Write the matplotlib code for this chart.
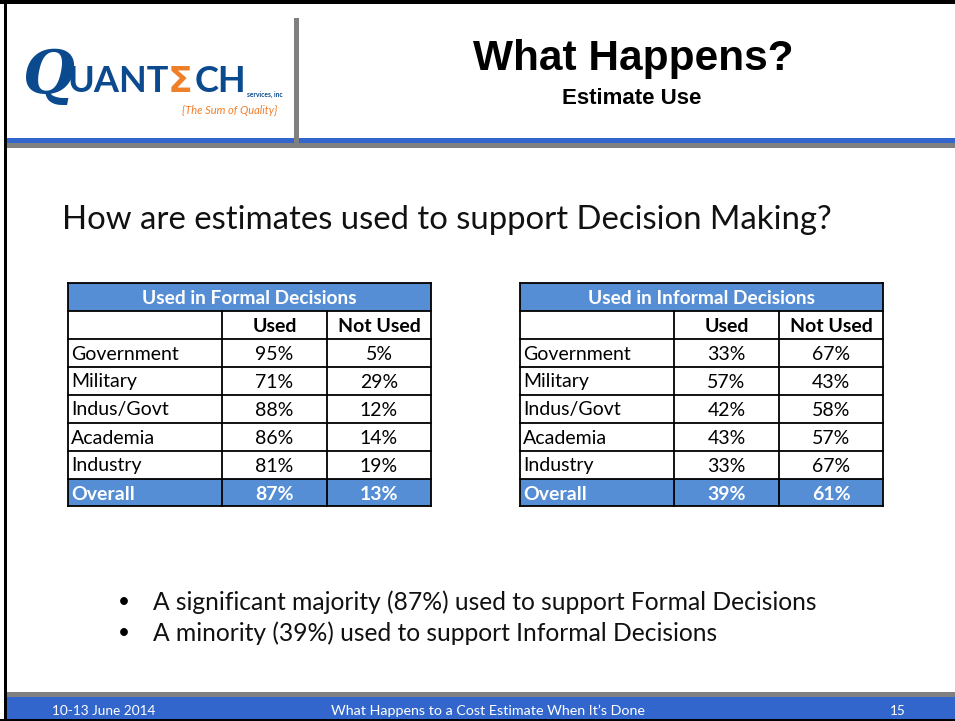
"""
plot.py
-------
Slide recreation: estimate use in formal / informal decisions.
"""

import matplotlib
matplotlib.use("Agg")
import matplotlib.pyplot as plt
from matplotlib.patches import Rectangle

# ── Data ──────────────────────────────────────────────────────────────────────
CATEGORIES   = ["Government", "Military", "Indus/Govt", "Academia", "Industry"]
COL_HEADERS  = ["Used", "Not Used"]
FORMAL_USED      = [95, 71, 88, 86, 81]
FORMAL_NOT_USED  = [5, 29, 12, 14, 19]
FORMAL_OVERALL   = [87, 13]
INFORMAL_USED     = [33, 57, 42, 43, 33]
INFORMAL_NOT_USED = [67, 43, 58, 57, 67]
INFORMAL_OVERALL  = [39, 61]

TITLE     = "What Happens?"
SUBTITLE  = "Estimate Use"
QUESTION  = "How are estimates used to support Decision Making?"
BULLETS   = [
    "A significant majority (87%) used to support Formal Decisions",
    "A minority (39%) used to support Informal Decisions",
]
FOOTER    = ["10-13 June 2014", "What Happens to a Cost Estimate When It\u2019s Done", "15"]

# ── Style ─────────────────────────────────────────────────────────────────────
BLUE_BAR   = "#3366CC"
GRAY_BAR   = "#808080"
TABLE_BLUE = "#558ED5"
LOGO_BLUE  = "#0B4A8F"
LOGO_ORNG  = "#F07F2A"
BODY_FONT  = "Lato"
HEAD_FONT  = "Liberation Sans"

W, H = 955, 721
fig = plt.figure(figsize=(W / 100, H / 100), dpi=100)
ax = fig.add_axes([0, 0, 1, 1])
ax.set_xlim(0, W)
ax.set_ylim(H, 0)
ax.axis("off")


def rect(x, y, w, h, color, lw=0, ec=None, z=1):
    ax.add_patch(Rectangle((x, y), w, h, facecolor=color, edgecolor=ec or color,
                           linewidth=lw, zorder=z))


# ── Frame / header / footer ───────────────────────────────────────────────────
rect(0, 0, W, 4, "black", z=5)
rect(4, 0, 3, H, "black", z=5)
rect(0, H - 2, W, 2, "black", z=5)
rect(7, 138, W, 5, BLUE_BAR)
rect(7, 143, W, 5, GRAY_BAR)
rect(294, 18, 5, 128, GRAY_BAR, z=3)
rect(7, 692, W, 5, GRAY_BAR)
rect(7, 697, W, 22, BLUE_BAR)

ax.text(633, 59, TITLE, ha="center", va="center", fontsize=30.5,
        fontweight="bold", family=HEAD_FONT)
ax.text(632, 98, SUBTITLE, ha="center", va="center", fontsize=16,
        fontweight="bold", family=HEAD_FONT)

# logo
ax.text(22, 76, "Q", ha="left", va="center", fontsize=43, color=LOGO_BLUE,
        family="DejaVu Serif", style="italic", fontweight="bold")
ax.text(67, 82, "UANT", ha="left", va="center", fontsize=26, color=LOGO_BLUE,
        family=BODY_FONT, fontweight="bold")
ax.text(168, 82, "\u03a3", ha="left", va="center", fontsize=26, color=LOGO_ORNG,
        family="DejaVu Sans", fontweight="bold")
ax.text(195, 82, "CH", ha="left", va="center", fontsize=26, color=LOGO_BLUE,
        family=BODY_FONT, fontweight="bold")
ax.text(247, 94, "services, inc", ha="left", va="center", fontsize=4.8,
        color=LOGO_BLUE, family=BODY_FONT, fontweight="bold")
ax.text(230, 110, "{The Sum of Quality}", ha="center", va="center", fontsize=8,
        color=LOGO_ORNG, family=BODY_FONT, style="italic")

# question and bullets
ax.text(62, 220, QUESTION, ha="left", va="center", fontsize=23.7,
        family=BODY_FONT, color="#111111")
for i, b in enumerate(BULLETS):
    y = 602 + i * 31
    ax.text(118, y, "\u2022", ha="left", va="center", fontsize=15, family=BODY_FONT)
    ax.text(153, y, b, ha="left", va="center", fontsize=17.7, family=BODY_FONT,
            color="#111111")

# footer text
ax.text(52, 711, FOOTER[0], ha="left", va="center", fontsize=9.8,
        color="white", family=BODY_FONT)
ax.text(488, 711, FOOTER[1], ha="center", va="center", fontsize=10.3,
        color="white", family=BODY_FONT)
ax.text(898, 711, FOOTER[2], ha="center", va="center", fontsize=9.8,
        color="white", family=BODY_FONT)


# ── Tables ────────────────────────────────────────────────────────────────────
def draw_table(x0, title, used, not_used, overall):
    cw = [154, 105, 104]
    rh = 28
    y0 = 283
    xs = [x0, x0 + cw[0], x0 + cw[0] + cw[1], x0 + sum(cw)]
    n_rows = len(CATEGORIES) + 3
    y_end = y0 + rh * n_rows - 1

    # title row and overall row fill
    rect(x0, y0, sum(cw), rh, TABLE_BLUE)
    rect(x0, y0 + rh * (n_rows - 1), sum(cw), rh - 1, TABLE_BLUE)

    fs = 14
    ax.text(x0 + sum(cw) / 2, y0 + rh / 2 + 1, title, ha="center", va="center",
            fontsize=13.8, color="white", fontweight="bold", family=BODY_FONT)
    yh = y0 + rh * 1.5 + 1
    for j, h in enumerate(COL_HEADERS):
        ax.text((xs[j + 1] + xs[j + 2]) / 2, yh, h, ha="center", va="center",
                fontsize=fs, fontweight="bold", family=BODY_FONT)
    for i, cat in enumerate(CATEGORIES):
        yc = y0 + rh * (i + 2.5) + 1
        ax.text(x0 + 3, yc, cat, ha="left", va="center", fontsize=fs,
                family=BODY_FONT)
        for j, v in enumerate([used[i], not_used[i]]):
            ax.text((xs[j + 1] + xs[j + 2]) / 2, yc, f"{v}%", ha="center",
                    va="center", fontsize=fs, family=BODY_FONT)
    yc = y0 + rh * (n_rows - 0.5) + 1
    ax.text(x0 + 3, yc, "Overall", ha="left", va="center", fontsize=fs,
            color="white", fontweight="bold", family=BODY_FONT)
    for j, v in enumerate(overall):
        ax.text((xs[j + 1] + xs[j + 2]) / 2, yc, f"{v}%", ha="center",
                va="center", fontsize=fs, color="white", fontweight="bold",
                family=BODY_FONT)

    # grid lines
    lw = 1.3
    for k in range(n_rows + 1):
        y = min(y0 + rh * k, y_end)
        ax.plot([x0, xs[-1]], [y, y], color="black", lw=lw, zorder=4)
    ax.plot([x0, x0], [y0, y_end], color="black", lw=lw, zorder=4)
    ax.plot([xs[-1], xs[-1]], [y0, y_end], color="black", lw=lw, zorder=4)
    for xv in xs[1:3]:
        ax.plot([xv, xv], [y0 + rh, y_end], color="black", lw=lw, zorder=4)


draw_table(68, "Used in Formal Decisions", FORMAL_USED, FORMAL_NOT_USED, FORMAL_OVERALL)
draw_table(520, "Used in Informal Decisions", INFORMAL_USED, INFORMAL_NOT_USED, INFORMAL_OVERALL)

fig.savefig("out.png", dpi=100)
plt.close(fig)
